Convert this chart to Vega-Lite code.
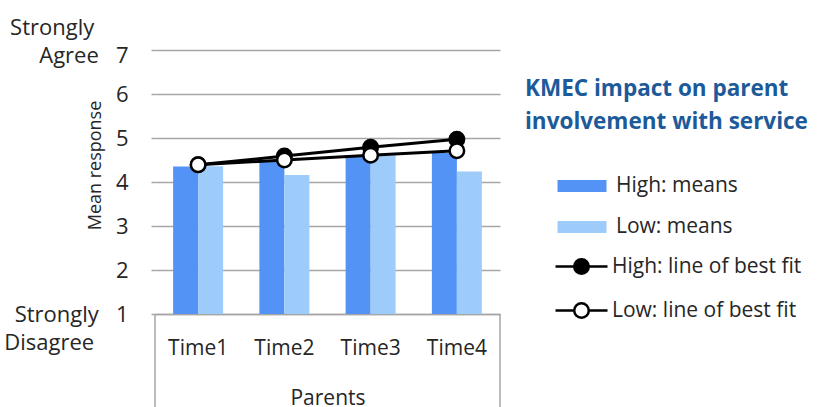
{
  "$schema": "https://vega.github.io/schema/vega-lite/v6.json",
  "width": 345,
  "height": 264,
  "autosize": "none",
  "padding": {"left": 155, "top": 50, "right": 317, "bottom": 93},
  "background": "white",
  "config": {
    "font": "Open Sans",
    "view": {"stroke": null},
    "axis": {"labelColor": "#262626", "titleColor": "#262626", "titleFontWeight": "normal"},
    "legend": {"padding": 0, "labelColor": "#262626", "labelLimit": 0, "titleLimit": 0}
  },
  "datasets": {
    "means": [
      {"time": "Time1", "series": "High: means", "mean": 4.35},
      {"time": "Time1", "series": "Low: means", "mean": 4.36},
      {"time": "Time2", "series": "High: means", "mean": 4.47},
      {"time": "Time2", "series": "Low: means", "mean": 4.16},
      {"time": "Time3", "series": "High: means", "mean": 4.6},
      {"time": "Time3", "series": "Low: means", "mean": 4.6},
      {"time": "Time4", "series": "High: means", "mean": 4.66},
      {"time": "Time4", "series": "Low: means", "mean": 4.24}
    ],
    "fit": [
      {"time": "Time1", "series": "High: line of best fit", "value": 4.39},
      {"time": "Time2", "series": "High: line of best fit", "value": 4.59},
      {"time": "Time3", "series": "High: line of best fit", "value": 4.79},
      {"time": "Time4", "series": "High: line of best fit", "value": 4.97},
      {"time": "Time1", "series": "Low: line of best fit", "value": 4.39},
      {"time": "Time2", "series": "Low: line of best fit", "value": 4.5},
      {"time": "Time3", "series": "Low: line of best fit", "value": 4.61},
      {"time": "Time4", "series": "Low: line of best fit", "value": 4.71}
    ]
  },
  "layer": [
    {
      "data": {"name": "means"},
      "mark": {"type": "bar"},
      "encoding": {
        "x": {
          "field": "time", "type": "nominal", "title": "Parents",
          "scale": {"domain": ["Time1", "Time2", "Time3", "Time4"], "paddingInner": 0, "paddingOuter": 0},
          "axis": {
            "labelAngle": 0, "labelFontSize": 21, "labelBaseline": "middle", "labelPadding": 34,
            "domain": true, "domainColor": "#A6A6A6", "domainWidth": 1.5,
            "ticks": false, "grid": false,
            "titleFontSize": 21, "titleY": 90, "titleBaseline": "alphabetic"
          }
        },
        "xOffset": {"field": "series", "type": "nominal", "sort": ["High: means", "Low: means"], "scale": {"paddingInner": 0, "paddingOuter": 0.725}},
        "y": {
          "field": "mean", "type": "quantitative", "title": "Mean response",
          "scale": {"domain": [1, 7], "nice": false, "zero": false},
          "axis": {
            "values": [1, 2, 3, 4, 5, 6, 7],
            "domain": false, "grid": true, "gridColor": "#A6A6A6", "gridWidth": 1.5,
            "ticks": true, "tickSize": 4, "tickColor": "#A6A6A6", "tickWidth": 1.5,
            "labelFontSize": 22, "labelPadding": 23, "labelOverlap": false, "labelBound": false,
            "labelLineHeight": 28, "labelAlign": "right", "labelBaseline": "middle",
            "labelExpr": "datum.value == 7 ? ['Strongly\u00a0\u00a0\u00a0\u00a0\u00a0\u00a0\u200b', 'Agree\u00a0\u00a0\u00a07'] : datum.value == 1 ? ['Strongly\u00a0\u00a0\u00a01', 'Disagree\u00a0\u00a0\u00a0\u00a0\u00a0\u00a0\u200b'] : datum.label",
            "labelOffset": {"condition": {"test": "datum.value == 7", "value": -23}, "value": 0},
            "titleFontSize": 18, "titleAngle": -90, "titleX": -60, "titleY": 115, "titleAlign": "center", "titleBaseline": "middle"
          }
        },
        "y2": {"datum": 1},
        "color": {
          "field": "series", "type": "nominal",
          "scale": {"domain": ["High: means", "Low: means"], "range": ["#5393F6", "#9DCBFA"]},
          "legend": {
            "orient": "none", "legendX": 370, "legendY": 28,
            "title": ["KMEC impact on parent", "involvement with service"],
            "titleFontSize": 22.5, "titleFontWeight": "bold", "titleColor": "#1C5A9A", "titleLineHeight": 33, "titlePadding": 42,
            "symbolType": "M3.667,-1H11.833V1H3.667Z", "symbolSize": 144, "symbolStrokeWidth": 0,
            "labelOffset": 70, "labelFontSize": 21, "rowPadding": 19
          }
        }
      }
    },
    {
      "data": {"values": [{}]},
      "mark": {"type": "rule", "color": "#A6A6A6", "strokeWidth": 1.5, "clip": false},
      "encoding": {
        "x": {"datum": "Time1", "type": "nominal", "bandPosition": 0},
        "y": {"datum": 1, "type": "quantitative"},
        "y2": {"datum": -1.2}
      }
    },
    {
      "data": {"values": [{}]},
      "mark": {"type": "rule", "color": "#A6A6A6", "strokeWidth": 1.5, "clip": false},
      "encoding": {
        "x": {"datum": "Time4", "type": "nominal", "bandPosition": 1},
        "y": {"datum": 1, "type": "quantitative"},
        "y2": {"datum": -1.2}
      }
    },
    {
      "data": {"name": "fit"},
      "mark": {"type": "line", "color": "black", "strokeWidth": 3},
      "encoding": {
        "x": {"field": "time", "type": "nominal", "title": "Parents"},
        "y": {"field": "value", "type": "quantitative", "title": "Mean response"},
        "detail": {"field": "series"}
      }
    },
    {
      "data": {"name": "fit"},
      "mark": {"type": "circle", "stroke": "black", "strokeWidth": 2.5, "size": 210, "opacity": 1},
      "encoding": {
        "x": {"field": "time", "type": "nominal", "title": "Parents"},
        "y": {"field": "value", "type": "quantitative", "title": "Mean response"},
        "fill": {
          "field": "series", "type": "nominal",
          "scale": {"domain": ["High: line of best fit", "Low: line of best fit"], "range": ["black", "white"]},
          "legend": {
            "orient": "none", "legendX": 398, "legendY": 206,
            "title": null,
            "symbolType": "M-1,0H1.34M3.16,0H5.5M1.34,0A0.91,0.91,0,1,1,3.16,0A0.91,0.91,0,1,1,1.34,0Z",
            "symbolSize": 256, "symbolStrokeColor": "black", "symbolStrokeWidth": 2.5,
            "labelOffset": 38, "labelFontSize": 21, "rowPadding": 19
          }
        }
      }
    }
  ]
}
